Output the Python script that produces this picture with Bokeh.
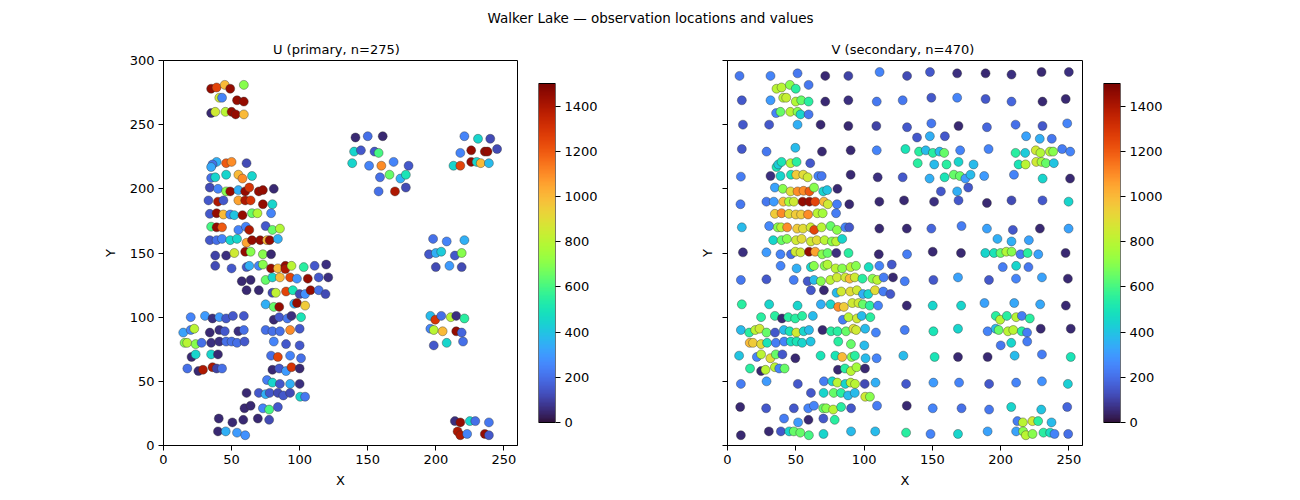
import numpy as np
from bokeh.plotting import figure
from bokeh.models import (ColumnDataSource, LinearColorMapper, FixedTicker, Range1d)
from bokeh.layouts import column, row
from bokeh.palettes import Turbo256
from bokeh.core.properties import value
from bokeh.embed import file_html
from bokeh.resources import INLINE

# ---------------------------------------------------------------------------
# Walker Lake samples: (x, y, value) grouped by area of the field
# ---------------------------------------------------------------------------
u_northwest_top = [
    (35, 278, 1450), (39, 279, 1250), (45, 281, 1000), (49, 278, 1450), (59, 281, 700),
    (41, 271, 850), (43, 271, 250), (54, 269, 1450), (59, 268, 1450),
    (35, 259, 50), (38, 260, 850), (45.5, 260, 800), (50, 260, 1450), (53, 258, 1450), (59, 258, 1000),
]
u_west_upper = [
    (39, 221, 350), (36, 219, 200), (35, 217, 330), (46, 220, 1200), (50, 221, 1100), (61, 220, 120),
    (35, 208.5, 200), (38, 209, 450), (46, 211, 450), (55, 211, 1000), (58, 208, 1100), (65, 210, 450),
    (34, 201, 120), (40, 200, 250), (46, 198, 700), (49, 198, 1450), (55, 199, 350), (60, 198, 1450),
    (63, 201, 1300), (70, 198, 1450), (73, 199, 1450), (81, 200, 50),
    (33, 191, 150), (40, 190, 1400), (44, 191, 150), (55, 191, 1050), (60, 191, 1400), (64, 191, 1300),
    (73, 188, 1450), (80, 188, 450),
    (34, 180.5, 150), (39, 181, 1450), (44, 180, 1000), (49, 180, 250), (52, 179.5, 400), (58, 179.5, 1450),
    (65, 181, 650), (69, 181, 780), (79, 181, 250),
    (35, 170.5, 600), (39, 170, 1450), (43, 170, 1200), (55, 168, 250), (60.5, 170.5, 250), (63, 168, 1400),
    (75, 171, 150), (80, 168, 650), (85.5, 169, 780),
    (34, 160, 150), (39, 160, 200), (43, 161, 250), (49, 160, 450), (54, 161, 450), (61, 158, 1050),
    (65, 160, 1450), (71, 160, 1450), (76, 160, 1000), (78, 160, 1450), (84, 161, 350),
    (38, 148, 100), (46, 148, 60), (52, 150, 850), (60, 151, 1450), (64, 151, 700), (73, 149, 700), (79, 149, 50),
]
u_west_middle = [
    (38, 140, 120), (50, 138, 150), (61, 139, 150), (63, 140, 350), (70, 140, 250), (73, 141, 700),
    (79, 138, 1450), (84, 138, 1000), (89.5, 140, 1450), (89.5, 137.5, 1400), (94, 140, 800), (103, 139, 550),
    (111, 140, 150), (119.5, 141, 60),
    (57.5, 128, 50), (64, 129, 50), (75, 129, 650), (80, 131, 450), (85.5, 131, 1000), (93, 131, 1250),
    (98, 130, 280), (106, 130, 1450), (114, 131, 150), (121, 131, 60),
    (61, 121, 50), (70, 121, 50), (80, 119, 120), (82.5, 119, 820), (90, 120, 1250), (95, 121, 500),
    (100, 118, 120), (104, 118, 280), (108, 121, 1450), (114, 121, 200), (119, 118, 120),
    (75, 110, 350), (81, 108, 650), (85, 108, 1450), (96, 110.5, 350), (98, 111, 1450), (104, 109, 950),
]
u_west_lower = [
    (20, 100, 250), (30.5, 101, 300), (36, 99, 60), (41, 100, 300), (46, 99, 150), (51, 101, 150),
    (59, 101, 150), (81, 98, 50), (85, 100, 150), (91, 99, 220), (94, 101, 60), (101, 100, 500),
    (14.5, 88, 320), (20, 90, 250), (22.6, 91, 800), (34, 88, 50), (41, 90, 60), (45, 89, 150),
    (55, 89, 60), (59, 90, 200), (75, 90, 200), (80, 89, 200), (85.5, 89, 200), (93, 90, 1100), (100, 91, 150),
    (15.5, 80, 700), (17.4, 80, 800), (23.6, 79, 700), (28, 80, 200), (35, 80, 60), (41, 81, 60),
    (46, 81, 200), (50, 81, 200), (54, 80, 200), (59.5, 81, 150), (81, 81, 250), (90, 79, 150), (100, 78, 150),
    (20.6, 69, 50), (23.6, 71, 450), (35, 71, 450), (40, 71, 50), (79, 70, 200), (84, 69, 1250),
    (93, 70, 250), (101, 68, 200),
    (17.5, 60, 200), (25.6, 58, 50), (29, 59, 1400), (36, 61, 1400), (39, 60, 100), (43, 60, 200),
    (80, 59, 50), (85, 60, 150), (90, 58, 300), (94, 61, 1300), (100, 60, 50),
    (76, 51, 230), (80, 49, 450), (85.5, 48, 150), (93, 48, 350), (100, 48, 60),
    (61, 41, 50), (70, 41, 150), (75, 40, 350), (78, 41, 150), (84, 41, 120), (88, 39, 150),
    (93, 41, 120), (100.4, 38, 450), (104, 38, 220),
    (59.5, 29, 50), (64, 31, 50), (73, 29, 250), (77.6, 28, 600), (84, 30, 150),
    (40.6, 21, 50), (50.6, 18, 50), (58.6, 20, 50), (69.3, 21, 50), (77.6, 20, 120),
    (40, 11, 50), (45.7, 11, 350), (54, 10, 300), (60, 8, 280),
]
u_central_north = [
    (141, 240, 50), (150, 241, 200), (161, 241, 50), (140, 229, 450), (145, 230, 150), (155, 229, 150),
    (158, 228, 600), (138.6, 220, 450), (151, 218, 250), (160, 218, 1100), (169, 221, 250), (180, 218, 150),
    (159, 209, 200), (166, 211, 650), (174, 208, 350), (178, 211, 500),
    (158, 198, 200), (170, 198, 1400), (178, 201, 120),
]
u_east = [
    (221, 241, 250), (231, 239, 450), (240, 239, 120),
    (218, 228, 250), (226, 230, 1450), (236, 229, 1450), (238, 229, 1450), (245, 231, 120),
    (213, 218, 450), (218, 218, 1250), (226, 221, 1450), (230, 221, 450), (233, 220, 1000), (239, 220, 380),
    (198, 161, 200), (208, 159, 250), (221, 160, 350),
    (195, 149, 150), (200, 150, 350), (204, 151, 420), (214, 148, 150), (219, 150, 700),
    (200, 139, 120), (210, 140, 300), (219, 139, 120),
    (196, 101, 380), (199.6, 98, 1300), (204, 101, 200), (211, 100, 800), (215, 101, 60), (221, 99, 550),
    (196, 91, 250), (198.5, 90, 800), (205, 89, 1000), (215, 89, 1450), (219, 88, 180),
    (220, 81, 200), (208, 80, 450), (198.5, 78, 150),
    (214, 19, 60), (218, 18, 1450), (225, 19, 450), (229, 19, 200), (239, 18, 220),
    (216, 11, 1400), (218, 8, 1400), (223, 9, 250), (236, 9, 1450), (239, 8, 150),
]

v_west_upper = [
    (8.8, 288, 220), (31.5, 288, 250), (51.3, 290, 220), (71.6, 288, 50), (88.5, 288, 100), (111.4, 291, 250),
    (35.9, 278, 800), (39.6, 279, 800), (45.7, 281, 700), (50, 278, 550), (59.4, 281, 220),
    (10.5, 269, 150), (31.5, 269, 300), (40.8, 271, 800), (43, 271, 830), (50, 268, 780), (54, 269, 650),
    (59.4, 268, 550), (71.6, 268, 50), (88.5, 269, 60), (109.3, 268, 220),
    (35.6, 259, 250), (38.8, 260, 650), (46, 260, 800), (51.3, 260, 700), (53.5, 258, 450), (59.4, 258, 220),
    (11.3, 250, 150), (30.5, 250, 150), (51.3, 250, 350), (68.2, 250, 50), (88.5, 249, 50), (109, 249, 100),
    (10.5, 231, 150), (28.6, 229, 220), (49.7, 232, 380), (69.2, 229, 50), (90.2, 230, 50), (109.3, 230, 250),
    (35.9, 217, 500), (37.2, 219, 420), (39.6, 221, 500), (46.2, 220, 780), (50.6, 221, 550), (60.6, 220, 150),
    (9.8, 209.5, 230), (31.5, 210, 60), (38.8, 210, 450), (46.5, 211, 500), (50.4, 211, 950), (55.5, 211, 900),
    (58.7, 209, 850), (66.5, 210, 250), (69, 210, 220), (90.2, 211, 50), (110, 209, 60),
]
v_west_core = [
    (34.7, 201, 320), (40.5, 200, 700), (46.2, 198, 900), (51.3, 198, 1100), (55.7, 198.5, 1100), (60, 198, 1200),
    (63.4, 201, 700), (70.1, 198, 450), (73, 199, 400), (80.5, 200, 50),
    (9.5, 188, 220), (28.5, 190, 220), (33.9, 190, 300), (40.8, 190, 980), (45, 190, 750), (48.6, 190, 850),
    (55, 190, 1450), (60, 190, 1450), (64.2, 190, 1250), (70.6, 190, 1000), (73.5, 188, 850), (80.2, 188, 230),
    (89.2, 188, 50), (111.2, 190, 50),
    (34.7, 180.5, 950), (39.6, 181, 1100), (45, 180.5, 900), (50, 180, 950), (53.9, 180, 950), (59, 180, 1100),
    (65.8, 181, 800), (69.7, 181, 750), (79.5, 181, 230),
    (10.5, 170, 380), (30.5, 171, 260), (36.8, 170, 700), (39.3, 170, 800), (43.7, 170, 1100), (51, 169, 950),
    (55.3, 169, 900), (60.9, 170, 850), (63.5, 168, 1250), (68.9, 170, 800), (75.5, 171, 650), (80.2, 168, 700),
    (86.3, 170, 250), (89.2, 170, 150), (111.2, 169, 50),
    (33.5, 160, 450), (39.6, 160, 650), (43.5, 161, 700), (50.2, 160, 850), (54.3, 161, 900), (61.1, 159, 850),
    (65.4, 160, 900), (71.1, 160, 800), (76.5, 159, 700), (79.6, 159, 800), (84, 161, 450),
    (11.3, 150.5, 60), (28.5, 150.5, 300), (38.8, 149, 250), (46.5, 149, 200), (49.7, 151, 850), (53.5, 150.5, 850),
    (59.7, 151, 1450), (64.2, 151, 1050), (69.4, 149, 700), (73.3, 150, 650), (79.7, 150, 60), (88.6, 150, 550),
    (110.8, 149, 50),
]
v_west_middle = [
    (38.9, 140, 250), (50.6, 138, 350), (61.1, 139, 450), (63.3, 140, 700), (71.1, 140, 700), (73.3, 141, 780),
    (79.2, 138, 800), (84, 138, 700), (90.2, 139, 800), (94.1, 140, 700), (103.4, 139, 480), (111.2, 140, 250),
    (120.3, 141, 150),
    (9.8, 129, 220), (28.5, 129.5, 150), (48.5, 129, 230), (58.7, 128, 150), (63.3, 129, 380), (68.4, 128, 700),
    (75.3, 129, 800), (80.2, 131, 850), (86.3, 131, 850), (89.5, 130, 1000), (93.2, 131, 850), (98.8, 130, 550),
    (106.2, 130, 700), (109.7, 129, 800), (114.4, 131, 230), (121.2, 131, 50),
    (61.1, 121, 150), (70.6, 121, 50), (79.9, 119, 380), (83.3, 120, 850), (89.9, 120, 900), (94.8, 121, 850),
    (99.2, 118, 350), (103.1, 118, 450), (108, 121, 900), (114.1, 120, 230), (119.3, 118, 150),
    (10.5, 110, 550), (30.5, 110, 450), (51.3, 109, 450), (68.4, 110, 350), (75.5, 110, 450), (81.1, 108, 1100),
    (85.2, 108, 950), (91.4, 111, 850), (96, 111, 850), (99.2, 110, 650), (104.2, 109, 550), (110.3, 109, 250),
    (24.6, 100, 550), (34.7, 101, 550), (39.9, 99, 50), (44.5, 100, 550), (49.6, 99, 550), (54.7, 101, 550),
    (62.5, 101, 380), (84.5, 98, 230), (88.6, 100, 800), (94.8, 99, 850), (98.3, 101, 380), (104.6, 100, 550),
]
v_west_lower = [
    (9.8, 90, 380), (15.9, 88, 550), (20.3, 90, 800), (23.5, 91, 850), (28.6, 88, 650), (34.8, 88, 150),
    (41.3, 90, 380), (45.5, 89, 500), (50.4, 88, 850), (55.8, 89, 450), (59.7, 90, 380), (69.6, 90, 50),
    (75.8, 89, 550), (80.6, 89, 550), (86.8, 89, 650), (92.2, 91, 900), (94.2, 90, 850), (100.8, 91, 380),
    (108.7, 88, 250),
    (16.3, 80, 1000), (18.7, 80, 950), (24.6, 79, 900), (29, 80, 500), (35.4, 80, 230), (41.5, 81, 250),
    (46.4, 81, 480), (50.6, 81, 500), (54.7, 80, 450), (60.9, 81, 400), (81.1, 81, 550), (90.4, 79, 650),
    (100.2, 78, 380),
    (8.5, 70, 400), (21.5, 69, 250), (24.6, 71, 800), (31.4, 68, 900), (35.4, 71, 650), (40.2, 71, 150),
    (49.7, 68, 50), (68.2, 70, 500), (79, 70, 500), (84, 69, 1000), (90.9, 69, 700), (93.3, 70, 550),
    (101.1, 68, 380), (109.2, 68, 250),
    (16.5, 60, 550), (24.6, 58, 50), (27.8, 59, 800), (34.7, 61, 800), (37.9, 60, 250), (41.8, 60, 650),
    (80.9, 59, 50), (86, 60, 550), (90.4, 58, 800), (94.5, 61, 750), (100.7, 60, 50),
    (9.8, 48, 230), (28.6, 50, 300), (51.5, 48, 150), (70.6, 50, 230), (76.7, 50, 450), (80.4, 49, 800),
    (86.3, 48, 450), (90.2, 49, 800), (93.4, 48, 800), (100.5, 48, 120), (108.4, 49, 350),
    (61.1, 41, 150), (70.4, 41, 450), (77.8, 41, 650), (83.1, 41, 550), (88.3, 39, 380), (93.2, 41, 380),
    (100.9, 38, 850), (104.3, 38, 700),
    (9.3, 30, 50), (28.3, 29, 150), (48.6, 29, 150), (59.1, 29, 250), (63.3, 31, 250), (70.1, 29, 650),
    (72.3, 29, 700), (77.4, 28, 800), (83.2, 30, 550), (90.5, 29, 150), (109.5, 31, 230),
    (41.4, 21, 230), (51.7, 18, 300), (59.3, 20, 50), (70.2, 21, 150), (78.5, 20, 550),
    (9.8, 8, 50), (30.3, 11, 50), (39.1, 11, 150), (45.2, 11, 450), (48.6, 11, 650), (53.3, 10, 650),
    (59.6, 8, 600), (70.3, 9, 450), (90.5, 11, 380), (108.2, 11, 380),
]
v_east_upper = [
    (131.5, 288, 120), (148.3, 291, 150), (168.2, 290, 60), (189, 290, 50), (208, 289, 60), (230, 291, 50),
    (250, 291, 60),
    (128.3, 269, 220), (149.3, 271, 150), (168.2, 271, 250), (189, 270, 150), (208, 268, 180), (230.7, 268, 50),
    (247.7, 270, 50),
    (131.5, 248, 150), (149.3, 251, 220), (169.2, 249, 50), (190, 248, 180), (211, 250, 200), (230.7, 249, 150),
    (248.8, 251, 250),
    (138.8, 240, 150), (148.2, 241, 350), (159.2, 241, 150), (218.7, 241, 320), (228.7, 239, 350), (237.5, 239, 220),
    (130.3, 231, 500), (140.3, 229, 550), (145.2, 230, 380), (150.4, 228, 550), (155.3, 229, 380), (158.7, 228, 650),
    (170.4, 230, 250), (191.2, 231, 250), (211, 228, 550), (218, 228, 420), (225.8, 230, 850), (229.2, 228, 780),
    (236.1, 229, 800), (238.5, 229, 700), (245.1, 231, 230), (251, 229, 250),
    (139.3, 220, 550), (151.4, 219, 380), (160.4, 219, 550), (169.2, 221, 450), (180.2, 219, 380), (213.2, 219, 500),
    (218.3, 219, 800), (226.1, 221, 850), (230, 221, 750), (233.2, 220, 650), (239, 220, 400),
    (128.3, 209, 150), (148, 208, 350), (159, 209, 500), (165.8, 211, 650), (170.2, 210, 650), (174.2, 208, 300),
    (178, 211, 380), (188, 210, 300), (209.8, 211, 250), (230.8, 208, 450), (250.9, 208, 50),
    (156.3, 198, 150), (168.2, 198, 350), (176.3, 201, 150),
    (129.3, 191, 50), (151.3, 190, 60), (169.2, 191, 150), (190, 189, 50), (208, 191, 120), (230.7, 191, 150),
    (249.8, 190, 450),
    (131.3, 169, 50), (149.3, 169, 180), (171.4, 171, 230), (190, 169, 320), (209, 168, 150), (228.8, 169, 50),
    (249.8, 169, 320),
    (197.7, 161, 350), (208, 159, 350), (220.7, 160, 320),
    (131.5, 149, 230), (150.3, 151, 50), (171, 150, 50), (188.8, 150, 450), (195.2, 150, 500), (200, 150, 650),
    (204.2, 151, 780), (208.1, 151, 700), (214.6, 149, 230), (219.8, 150, 550), (227.6, 149, 320), (247.6, 150, 50),
]
v_east_lower = [
    (201.6, 139, 230), (211.4, 140, 450), (220.4, 139, 220),
    (129.8, 128, 230), (150.8, 129, 150), (168.8, 131, 320), (191.5, 129, 150), (211.3, 130, 250), (230.3, 131, 320),
    (249.3, 130, 50),
    (131.3, 109, 50), (150.3, 109, 450), (171.1, 109, 450), (188.2, 111, 320), (210, 111, 330), (229, 110, 330),
    (247.8, 109, 50),
    (196.5, 101, 550), (199.7, 98, 800), (204.6, 101, 550), (211.4, 100, 800), (215.6, 101, 230), (221.4, 99, 550),
    (129.8, 90, 230), (150.8, 89, 500), (168.8, 91, 450), (190.5, 89, 250), (196.4, 91, 380), (198.6, 90, 650),
    (205.4, 89, 800), (209.3, 90, 800), (215.5, 89, 550), (219.4, 88, 230), (229.4, 91, 50), (251.4, 91, 50),
    (207.8, 80, 450), (219.5, 81, 230), (200.1, 78, 220),
    (128.8, 70, 380), (151.7, 69, 500), (168.8, 69, 50), (190.5, 69, 50), (210.3, 70, 380), (230.3, 71, 230),
    (251.4, 69, 500),
    (130.8, 48, 150), (150.8, 49, 300), (169.6, 49, 250), (191.6, 48, 150), (211.4, 49, 250), (230.3, 50, 280),
    (249.3, 48, 430),
    (131.3, 31, 50), (150.3, 29, 250), (171.4, 29, 200), (191.6, 28, 220), (207.8, 30, 450), (229.8, 28, 400),
    (248.8, 30, 180),
    (212.3, 19, 230), (216.3, 18, 800), (223.3, 19, 850), (227.5, 19, 550), (237.3, 18, 380),
    (130.8, 10, 550), (148.7, 9, 250), (168.8, 9, 450), (190.5, 11, 320), (211.4, 11, 320), (216.5, 11, 700),
    (218.5, 8, 800), (223.4, 9, 700), (231.4, 10, 550), (236.3, 10, 480), (239.5, 9, 250), (249.5, 9, 200),
]

U_GROUPS = [u_northwest_top, u_west_upper, u_west_middle, u_west_lower, u_central_north, u_east]
V_GROUPS = [v_west_upper, v_west_core, v_west_middle, v_west_lower, v_east_upper, v_east_lower]

suptitle = "Walker Lake \u2014 observation locations and values"
u_title = "U  (primary,  n=275)"
v_title = "V  (secondary, n=470)"
x_ticks = [0, 50, 100, 150, 200, 250]
y_ticks = [0, 50, 100, 150, 200, 250, 300]
cbar_ticks = [0, 200, 400, 600, 800, 1000, 1200, 1400]
v_low, v_high = 0, 1500

FONT = "DejaVu Sans"
FRAME_H = 385          # plot-area height in px
CBAR_H = 339           # colour-bar height in px (vertically centred on the plot area)
BORDER_TOP, BORDER_BOTTOM = 30, 55

mapper = LinearColorMapper(palette=Turbo256, low=v_low, high=v_high)


def to_source(groups):
    pts = [p for g in groups for p in g]
    return ColumnDataSource(dict(x=[p[0] for p in pts], y=[p[1] for p in pts], v=[p[2] for p in pts]))


def style_axes(p):
    p.outline_line_color = "black"
    p.outline_line_width = 1
    p.outline_line_alpha = 1
    p.grid.visible = False
    for ax in p.axis:
        ax.major_label_text_font = FONT
        ax.major_label_text_font_size = "13px"
        ax.major_label_text_color = "black"
        ax.axis_label_text_font = FONT
        ax.axis_label_text_font_size = "13px"
        ax.axis_label_text_font_style = "normal"
        ax.axis_label_text_color = "black"
        ax.major_tick_out = 5
        ax.major_tick_in = 0
        ax.major_tick_line_color = "black"
        ax.minor_tick_line_color = None
        ax.axis_line_color = "black"
        ax.major_label_standoff = 4


y_range = Range1d(0, 300)


def scatter_panel(title, groups, border_left, frame_w):
    p = figure(frame_width=frame_w, frame_height=FRAME_H,
               min_border_left=border_left, min_border_right=13,
               min_border_top=BORDER_TOP, min_border_bottom=BORDER_BOTTOM,
               x_range=Range1d(0, 260), y_range=y_range,
               toolbar_location=None, output_backend="svg", title=title)
    p.title.align = "center"
    p.title.text_font = FONT
    p.title.text_font_size = "13px"
    p.title.text_font_style = "normal"
    p.title.text_color = "black"
    p.title.standoff = 8
    p.scatter("x", "y", source=to_source(groups), size=9,
              fill_color={"field": "v", "transform": mapper}, fill_alpha=1,
              line_color="#333333", line_width=0.4)
    p.xaxis.ticker = FixedTicker(ticks=x_ticks)
    p.yaxis.ticker = FixedTicker(ticks=y_ticks)
    p.xaxis.axis_label = "X"
    p.yaxis.axis_label = "Y"
    style_axes(p)
    p.xaxis.axis_label_standoff = 6
    p.yaxis.axis_label_standoff = 9
    return p


def colorbar_panel(border_right):
    # the bar spans CBAR_H px of the FRAME_H px area: pad the value range accordingly
    pad = (FRAME_H - CBAR_H) / 2 * (v_high - v_low) / CBAR_H
    cb = figure(frame_width=17, frame_height=FRAME_H,
                min_border_left=8, min_border_right=border_right,
                min_border_top=BORDER_TOP, min_border_bottom=BORDER_BOTTOM,
                x_range=Range1d(0, 1), y_range=Range1d(v_low - pad, v_high + pad),
                y_axis_location="right", x_axis_type=None,
                toolbar_location=None, output_backend="svg")
    levels = np.linspace(v_low, v_high, 256).reshape(256, 1)
    cb.image(image=[levels], x=0, y=v_low, dw=1, dh=v_high - v_low, color_mapper=mapper)
    cb.quad(left=[0], right=[1], bottom=[v_low], top=[v_high],
            fill_color=None, line_color="black", line_width=1)
    cb.yaxis.ticker = FixedTicker(ticks=cbar_ticks)
    style_axes(cb)
    cb.outline_line_color = None
    cb.yaxis.axis_line_color = None
    return cb


# Title strip across the full width
head = figure(width=1300, height=30, min_border=0, x_range=Range1d(0, 1300), y_range=Range1d(0, 30),
              x_axis_type=None, y_axis_type=None, toolbar_location=None, output_backend="svg")
head.outline_line_color = None
head.grid.visible = False
head.text(x=[650], y=[13], text=[suptitle], text_align="center", text_baseline="middle",
          text_font=value(FONT), text_font_size="13.5px", text_color="black")

left = scatter_panel(u_title, U_GROUPS, 163, 354)
left_cb = colorbar_panel(105)
right = scatter_panel(v_title, V_GROUPS, 67, 355)
# shared y scale: ticks only on the right-hand panel
right.yaxis.major_label_text_color = None
right.yaxis.major_label_text_font_size = "0px"
right.yaxis.major_label_standoff = 0
right.yaxis.axis_label_standoff = 8
right_cb = colorbar_panel(180)

layout = column(head, row(left, left_cb, right, right_cb))

open("out.html", "w").write(file_html(layout, INLINE))
